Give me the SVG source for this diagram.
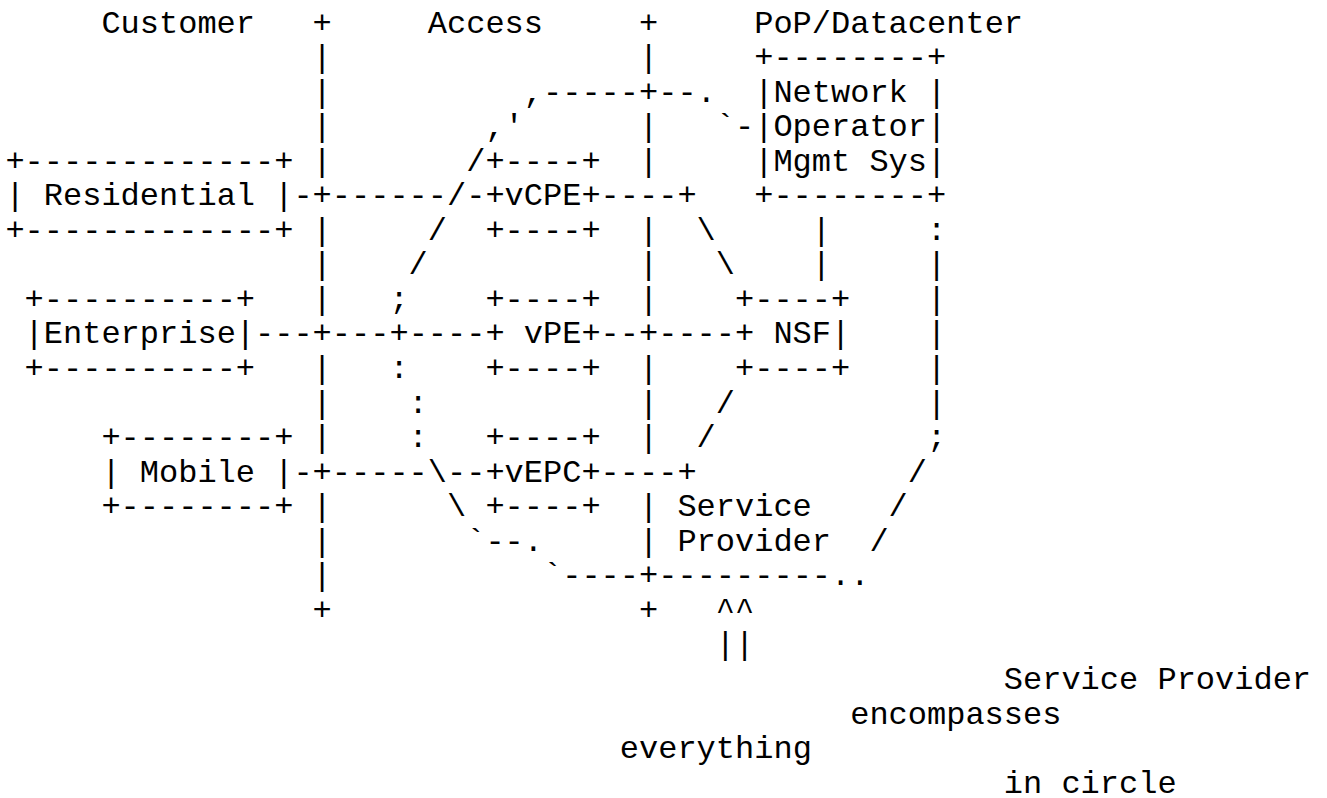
<svg xmlns="http://www.w3.org/2000/svg" width="1327" height="798" viewBox="0 0 1327 798">
<style>
text{font-family:"Liberation Mono","Courier New",monospace;font-size:32px;fill:#000;white-space:pre}
</style>
<rect width="1327" height="798" fill="#fff"/>
<g id="zones">
<text x="101.4" y="32.5">Customer</text>
<text x="427.8" y="32.5">Access</text>
<text x="754.2" y="32.5">PoP/Datacenter</text>
</g>
<g id="connectors">
<text x="312.6" y="32.5">+</text><text x="639" y="32.5">+</text>
<text x="312.6" y="67.05">|</text><text x="639" y="67.05">|</text>
<text x="312.6" y="101.6">|</text><text x="523.8" y="101.6">,-----+--.</text>
<text x="312.6" y="136.15">|</text><text x="485.4" y="136.15">,'</text><text x="639" y="136.15">|</text><text x="715.8" y="136.15">`-</text>
<text x="312.6" y="170.7">|</text><text x="466.2" y="170.7">/</text><text x="639" y="170.7">|</text>
<text x="293.4" y="205.25">-+------/-</text><text x="600.6" y="205.25">----+</text>
<text x="312.6" y="239.8">|</text><text x="427.8" y="239.8">/</text><text x="639" y="239.8">|</text><text x="696.6" y="239.8">\</text><text x="811.8" y="239.8">|</text><text x="927" y="239.8">:</text>
<text x="312.6" y="274.35">|</text><text x="408.6" y="274.35">/</text><text x="639" y="274.35">|</text><text x="715.8" y="274.35">\</text><text x="811.8" y="274.35">|</text><text x="927" y="274.35">|</text>
<text x="312.6" y="308.9">|</text><text x="389.4" y="308.9">;</text><text x="639" y="308.9">|</text><text x="927" y="308.9">|</text>
<text x="255" y="343.45">---+---+----</text><text x="600.6" y="343.45">--+----</text><text x="927" y="343.45">|</text>
<text x="312.6" y="378">|</text><text x="389.4" y="378">:</text><text x="639" y="378">|</text><text x="927" y="378">|</text>
<text x="312.6" y="412.55">|</text><text x="408.6" y="412.55">:</text><text x="639" y="412.55">|</text><text x="715.8" y="412.55">/</text><text x="927" y="412.55">|</text>
<text x="312.6" y="447.1">|</text><text x="408.6" y="447.1">:</text><text x="639" y="447.1">|</text><text x="696.6" y="447.1">/</text><text x="927" y="447.1">;</text>
<text x="293.4" y="481.65">-+-----\--</text><text x="600.6" y="481.65">----+</text><text x="907.8" y="481.65">/</text>
<text x="312.6" y="516.2">|</text><text x="447" y="516.2">\</text><text x="639" y="516.2">|</text><text x="888.6" y="516.2">/</text>
<text x="312.6" y="550.75">|</text><text x="466.2" y="550.75">`--.</text><text x="639" y="550.75">|</text><text x="869.4" y="550.75">/</text>
<text x="312.6" y="585.3">|</text><text x="543" y="585.3">`----+---------..</text>
<text x="312.6" y="619.85">+</text><text x="639" y="619.85">+</text><text x="715.8" y="619.85">^^</text>
<text x="715.8" y="654.4">||</text>
</g>
<g id="mgmt">
<text x="754.2" y="67.05">+--------+</text>
<text x="754.2" y="101.6">|Network |</text>
<text x="754.2" y="136.15">|Operator|</text>
<text x="754.2" y="170.7">|Mgmt Sys|</text>
<text x="754.2" y="205.25">+--------+</text>
</g>
<g id="residential">
<text x="5.4" y="170.7">+-------------+</text>
<text x="5.4" y="205.25">| Residential |</text>
<text x="5.4" y="239.8">+-------------+</text>
</g>
<g id="enterprise">
<text x="24.6" y="308.9">+----------+</text>
<text x="24.6" y="343.45">|Enterprise|</text>
<text x="24.6" y="378">+----------+</text>
</g>
<g id="mobile">
<text x="101.4" y="447.1">+--------+</text>
<text x="101.4" y="481.65">| Mobile |</text>
<text x="101.4" y="516.2">+--------+</text>
</g>
<g id="vcpe">
<text x="485.4" y="170.7">+----+</text>
<text x="485.4" y="205.25">+vCPE+</text>
<text x="485.4" y="239.8">+----+</text>
</g>
<g id="vpe">
<text x="485.4" y="308.9">+----+</text>
<text x="485.4" y="343.45">+ vPE+</text>
<text x="485.4" y="378">+----+</text>
</g>
<g id="vepc">
<text x="485.4" y="447.1">+----+</text>
<text x="485.4" y="481.65">+vEPC+</text>
<text x="485.4" y="516.2">+----+</text>
</g>
<g id="nsf">
<text x="735" y="308.9">+----+</text>
<text x="735" y="343.45">+ NSF|</text>
<text x="735" y="378">+----+</text>
</g>
<g id="service-provider-label">
<text x="677.4" y="516.2">Service</text>
<text x="677.4" y="550.75">Provider</text>
</g>
<g id="note">
<text x="1003.8" y="688.95">Service Provider</text>
<text x="850.2" y="723.5">encompasses</text>
<text x="619.8" y="758.05">everything</text>
<text x="1003.8" y="792.6">in circle</text>
</g>
</svg>
